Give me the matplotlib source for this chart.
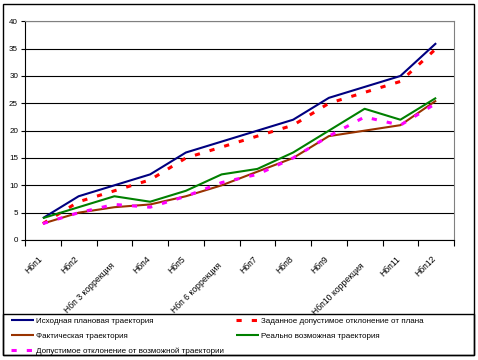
import numpy as np
import matplotlib
matplotlib.use('Agg')
from matplotlib import pyplot as plt
from matplotlib.patches import Rectangle

########## DATA ##########

categories = ['Нбп1', 'Нбп2', 'Нбп 3 коррекция', 'Нбп4', 'Нбп5', 'Нбп 6 коррекция',
              'Нбп7', 'Нбп8', 'Нбп9', 'Нбп10 коррекция', 'Нбп11', 'Нбп12']
plan = [4, 8, 10, 12, 16, 18, 20, 22, 26, 28, 30, 36]
plan_dev = [3, 7, 9, 11, 15, 17, 19, 21, 25, 27, 29, 35]
fact = [3, 5, 6, 6.5, 8, 10, 12.5, 15, 19, 20, 21, 25.5]
possible = [4, 6, 8, 7, 9, 12, 13, 16, 20, 24, 22, 26]
possible_dev = [3, 5, 6.5, 6, 8, 10.5, 12, 15, 19, 22.5, 21, 25]

names = ['Исходная плановая траектория', 'Заданное допустимое отклонение от плана',
         'Фактическая траектория', 'Реально возможная траектория',
         'Допустимое отклонение от возможной траектории']
yticks = [0, 5, 10, 15, 20, 25, 30, 35, 40]

plt.rcParams['font.family'] = ['Liberation Sans', 'DejaVu Sans']
FS = 5.8

########## PLOT ##########

fig = plt.figure(figsize=(4.78, 3.6), dpi=100)
ax = fig.add_axes([25 / 478, 1 - 240 / 360, 429 / 478, 218.7 / 360])

dash = (0, (1.7, 3.3))
styles = [
    (plan, '#000080', '-', 1.5),
    (plan_dev, '#ff0000', dash, 2.2),
    (fact, '#993300', '-', 1.5),
    (possible, '#008000', '-', 1.5),
    (possible_dev, '#ff00ff', dash, 2.2),
]
x = np.arange(len(categories))
handles = []
for (vals, col, ls, lw), name in zip(styles, names):
    h, = ax.plot(x, vals, color=col, linestyle=ls, linewidth=lw, label=name,
                 solid_joinstyle='round', solid_capstyle='butt', dash_capstyle='butt')
    handles.append(h)

ax.set_xlim(-0.5, len(categories) - 0.5)
ax.set_ylim(0, 40)
ax.set_yticks(yticks)
ax.set_yticklabels([str(v) for v in yticks], fontsize=FS)
ax.yaxis.grid(True, color='black', linewidth=0.8)
ax.set_axisbelow(True)

# category labels, rotated; the long ones sit a bit lower like in excel
ax.set_xticks(x)
ax.set_xticklabels([])
ax.tick_params(axis='x', length=0)
for i, lab in enumerate(categories):
    dy = -17.5 if len(lab) > 6 else -12.5
    ax.annotate(lab, xy=(i, 0), xycoords=('data', 'axes fraction'),
                xytext=(-1, dy), textcoords='offset points', fontsize=6.2,
                rotation=45, ha='right', va='center', rotation_mode='anchor')
ax.set_xticks(np.arange(len(categories) + 1) - 0.5, minor=True)
ax.tick_params(axis='x', which='minor', length=4, width=0.8, color='black')
ax.tick_params(axis='y', length=3, width=0.8, pad=2)

ax.spines['top'].set_color('#808080')
ax.spines['right'].set_color('#808080')
for s in ax.spines.values():
    s.set_linewidth(0.8)

# outer frame and legend box
fig.patches.append(Rectangle((3 / 478, 1 - 355 / 360), 471 / 478, 351 / 360,
                             transform=fig.transFigure, fill=False,
                             edgecolor='black', linewidth=1))
fig.patches.append(Rectangle((3 / 478, 1 - 355 / 360), 471 / 478, 41 / 360,
                             transform=fig.transFigure, fill=False,
                             edgecolor='black', linewidth=1))

order = [0, 2, 4, 1, 3]
leg = fig.legend([handles[i] for i in order], [names[i] for i in order],
                 ncol=2, loc='upper left', bbox_to_anchor=(11 / 478, 1 - 317 / 360),
                 fontsize=FS, frameon=False, borderaxespad=0, borderpad=0,
                 labelspacing=0.92, handlelength=2.9, handletextpad=0.25,
                 columnspacing=1.4)

plt.savefig('out.png', dpi=100)
